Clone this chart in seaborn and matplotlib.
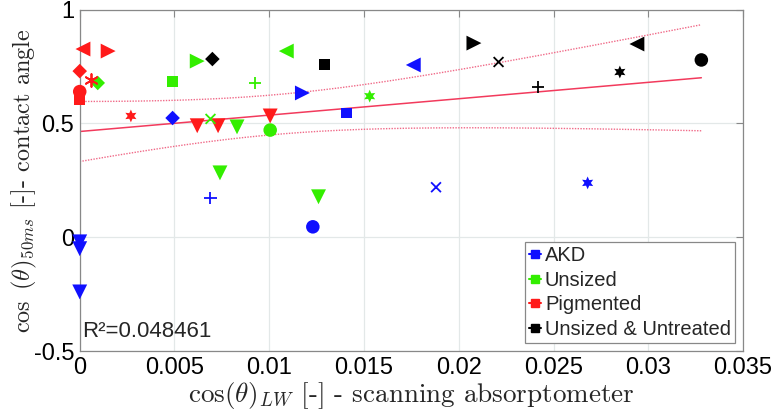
import numpy as np
import pandas as pd
import matplotlib
matplotlib.use("Agg")
import matplotlib.pyplot as plt
import seaborn as sns
from matplotlib.lines import Line2D

# ---- data ----
HEX = (6, 1, 0)   # six-pointed star (hexagram)
AST = (6, 2, 0)   # asterisk

akd_x = [0.0, 0.0, 0.0, 0.0049, 0.0069, 0.0123, 0.01175, 0.0141, 0.0176, 0.0188, 0.0268]
akd_y = [-0.02, -0.05, -0.24, 0.524, 0.173, 0.046, 0.634, 0.546, 0.757, 0.22, 0.239]
akd_m = ["v", "v", "v", "D", "+", "o", ">", "s", "<", "x", HEX]

uns_x = [0.00095, 0.0049, 0.0062, 0.0069, 0.0083, 0.00926, 0.01005, 0.0109, 0.0153, 0.0074, 0.0126]
uns_y = [0.678, 0.686, 0.774, 0.52, 0.485, 0.677, 0.471, 0.818, 0.62, 0.283, 0.178]
uns_m = ["D", "s", ">", "x", "v", "+", "o", "<", HEX, "v", "v"]

pig_x = [0.00017, 0.0015, 0.0, 0.0, 0.0, 0.00058, 0.0027, 0.0062, 0.0073, 0.01005]
pig_y = [0.827, 0.818, 0.73, 0.64, 0.607, 0.69, 0.533, 0.49, 0.49, 0.533]
pig_m = ["<", ">", "D", "o", "s", AST, HEX, "v", "v", "v"]

unt_x = [0.007, 0.0129, 0.0208, 0.0221, 0.0242, 0.0285, 0.0294, 0.0328]
unt_y = [0.783, 0.757, 0.853, 0.77, 0.66, 0.726, 0.849, 0.779]
unt_m = ["D", "s", ">", "x", "+", HEX, "<", "o"]

groups = ["AKD", "Unsized", "Pigmented", "Unsized & Untreated"]
colors = {"AKD": "#1010ff", "Unsized": "#33ee00",
          "Pigmented": "#ff1a1a", "Unsized & Untreated": "#000000"}
r2_text = "R²=0.048461"

# ---- styling ----
sns.set_theme(style="white")
plt.rcParams["font.family"] = ["Liberation Sans", "DejaVu Sans"]
plt.rcParams["mathtext.fontset"] = "cm"

rows = []
for g, xs, ys, ms in zip(groups, [akd_x, uns_x, pig_x, unt_x],
                         [akd_y, uns_y, pig_y, unt_y], [akd_m, uns_m, pig_m, unt_m]):
    for x, y, m in zip(xs, ys, ms):
        rows.append({"x": x, "y": y, "group": g, "marker": m})
df = pd.DataFrame(rows)
df["mkey"] = df["marker"].astype(str)

sizes = {"v": 115, "<": 115, ">": 115, "o": 95, "s": 62, "D": 55,
         "+": 75, "x": 50, str(HEX): 85, str(AST): 85}

fig, ax = plt.subplots(figsize=(7.74, 4.19), dpi=100)
fig.subplots_adjust(left=0.103, right=0.96, bottom=0.162, top=0.977)

# grid
ax.grid(True, color="#e3e8e8", lw=0.9)
ax.set_axisbelow(True)

# ---- linear fit with 95% confidence band ----
xa = df["x"].to_numpy()
ya = df["y"].to_numpy()
n = len(xa)
slope, icpt = np.polyfit(xa, ya, 1)
res = ya - (slope * xa + icpt)
s = np.sqrt(np.sum(res ** 2) / (n - 2))
xm = xa.mean()
sxx = np.sum((xa - xm) ** 2)
xg = np.linspace(0, xa.max(), 200)
fit = slope * xg + icpt
half = 2.024 * s * np.sqrt(1 / n + (xg - xm) ** 2 / sxx)
ax.plot(xg, fit, color="#f23a5c", lw=1.1, zorder=2)
ax.plot(xg, fit + half, color="#f06a88", lw=1.0, ls=(0, (1, 1)), zorder=2)
ax.plot(xg, fit - half, color="#f06a88", lw=1.0, ls=(0, (1, 1)), zorder=2)

# ---- scatter, one call per marker shape ----
for key, sub in df.groupby("mkey", sort=False):
    m = sub["marker"].iloc[0]
    filled = key not in ("+", "x", str(AST))
    kw = dict(linewidth=0) if filled else dict(linewidth=1.3)
    sns.scatterplot(data=sub, x="x", y="y", hue="group", palette=colors,
                    marker=m, s=sizes[key], legend=False, ax=ax, zorder=3,
                    clip_on=False, **kw)

ax.set_xlim(0, 0.035)
ax.set_ylim(-0.5, 1)
ax.set_xticks(np.arange(0, 0.0351, 0.005))
ax.set_xticklabels(["0", "0.005", "0.01", "0.015", "0.02", "0.025", "0.03", "0.035"])
ax.set_yticks([-0.5, 0, 0.5, 1])
ax.set_yticklabels(["-0.5", "0", "0.5", "1"])
ax.tick_params(direction="in", length=5, width=0.8, colors="#888888",
               labelcolor="black", labelsize=17, top=True, right=True, pad=4)
for sp in ax.spines.values():
    sp.set_color("#888888")
    sp.set_linewidth(0.9)

ax.set_xlabel(r"$\cos(\mathbf{\theta})_{LW}$ [-] - scanning absorptometer",
              fontsize=19.5, family="cmr10", labelpad=1)
ax.set_ylabel(r"$\cos\ (\mathbf{\theta})_{50ms}$ [-]- contact angle",
              fontsize=17.5, family="cmr10")
ax.yaxis.set_label_coords(-0.062, 0.5)

ax.text(0.003, 0.04, r2_text, transform=ax.transAxes, fontsize=16,
        va="baseline", ha="left")

handles = [Line2D([0], [0], color=colors[g], marker="s", ms=6, lw=1.5) for g in groups]
leg = ax.legend(handles, groups, loc="lower right", fontsize=14.5, frameon=True,
                fancybox=False, edgecolor="#888888", framealpha=1,
                handlelength=0.6, handletextpad=0.2, labelspacing=0.28,
                borderpad=0.2, borderaxespad=0.4)
leg.get_frame().set_linewidth(0.9)

fig.savefig("out.png", dpi=100)
